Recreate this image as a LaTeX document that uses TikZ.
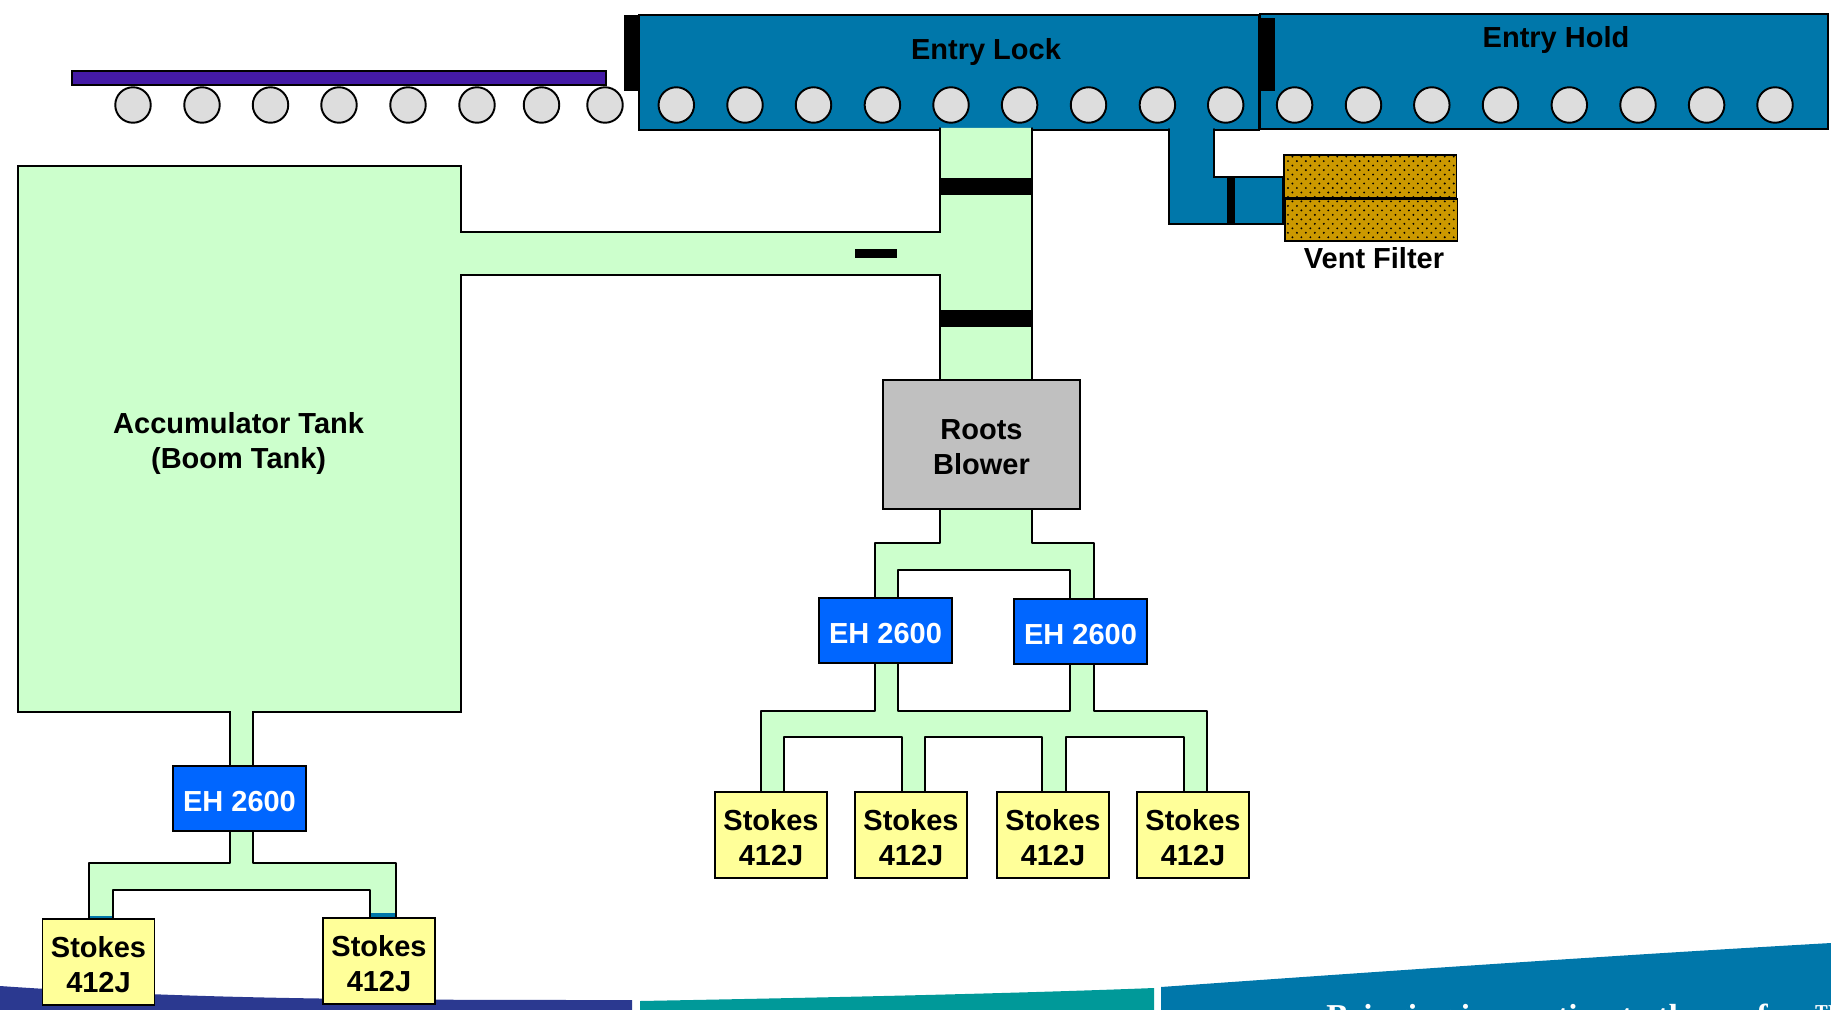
\documentclass[tikz,border=0pt]{standalone}
\usepackage{fontspec}
\setmainfont{Liberation Sans}
\newfontfamily\tagfont{Liberation Serif}
\usepackage{tkz-euclide}
\usetikzlibrary{patterns}
\definecolor{PipeClr}{HTML}{CCFFCC}
\definecolor{LockClr}{HTML}{0077AA}
\definecolor{PumpClr}{HTML}{0066FF}
\definecolor{StokesClr}{HTML}{FFFF99}
\definecolor{RootsClr}{HTML}{C0C0C0}
\definecolor{RollClr}{HTML}{DDDDDD}
\definecolor{StripClr}{HTML}{441AA6}
\definecolor{FilterClr}{HTML}{CC9900}
\definecolor{NavyClr}{HTML}{2B3990}
\definecolor{TealClr}{HTML}{009999}
\pgfdeclarepatternformonly{ventdots}{\pgfqpoint{-1pt}{-1pt}}{\pgfqpoint{6pt}{6pt}}{\pgfqpoint{5.1pt}{5.1pt}}{
\pgfpathcircle{\pgfqpoint{1.2pt}{1.2pt}}{.6pt}
\pgfpathcircle{\pgfqpoint{3.75pt}{3.75pt}}{.6pt}
\pgfusepath{fill}}
\newcommand{\lowtxt}{\rule{0pt}{14.8pt}}
\tikzset{
  boxtxt/.style={font=\bfseries\fontsize{16.5}{20}\selectfont,align=center,text=black,inner sep=0pt},
  box/.style={boxtxt,draw=black,line width=1.1pt,rectangle},
  lock/.style={box,fill=LockClr},
  pump/.style={box,fill=PumpClr,text=white,minimum width=2.66cm,minimum height=1.3cm},
  stokes/.style={box,fill=StokesClr,minimum width=2.24cm,minimum height=1.72cm},
  filter/.style={box,preaction={fill=FilterClr},pattern=ventdots,pattern color=black,minimum width=3.46cm,minimum height=.85cm},
  gate/.style={fill=black,inner sep=0pt,rectangle},
  roll/.style={circle,draw=black,line width=1.1pt,fill=RollClr,minimum size=.71cm,inner sep=0pt}
}

\begin{document}
\begin{tikzpicture}[x=.02cm,y=-.02cm]
\tkzSetUpLine[line width=1.1pt,color=black]
\useasboundingbox (0,0) rectangle (1831,1010);

% bands along the foot of the page
\fill[NavyClr] (0,986) .. controls (200,1000) and (400,1000) .. (632,1000) -- (632,1010) -- (0,1010) -- cycle;
\fill[TealClr] (640,1001) .. controls (800,998) and (1000,994) .. (1154,988) -- (1154,1010) -- (640,1010) -- cycle;
\fill[LockClr] (1161,987) .. controls (1400,970) and (1620,955) .. (1831,943) -- (1831,1010) -- (1161,1010) -- cycle;
\begin{scope}
\clip (0,0) rectangle (1831,1010);
\node[anchor=north west,inner sep=0pt,text=white,font=\tagfont\bfseries\fontsize{19}{20}\selectfont] (Tagline) at (1326,1004) {Bringing innovation to the surface™};
\end{scope}

% line and chambers
\node[box,fill=StripClr,minimum width=10.68cm,minimum height=.28cm] (Strip) at (339,77.7) {};
\node[lock,minimum width=11.36cm,minimum height=2.3cm] (EntryHold) at (1544,71.5) {};
\node[lock,minimum width=12.4cm,minimum height=2.3cm] (EntryLock) at (949,72.5) {};
\node[gate,minimum width=.3cm,minimum height=1.52cm] (GateA) at (631.5,53) {};
\node[gate,minimum width=.32cm,minimum height=1.46cm] (GateB) at (1267,54.5) {};
\node[boxtxt] (LockLabel) at (986,52.5) {Entry Lock};
\node[boxtxt] (HoldLabel) at (1556,40) {Entry Hold};
\foreach \x [count=\i] in {133,202,270.5,339,408,477,541.5,605,676.3,745,813.5,882.4,951,1019.6,1088.5,1157.4,1225.7,1294.6,1363.5,1431.8,1500.5,1569.3,1638,1706.6,1775}
  \node[roll] (Roll\i) at (\x,105) {};

% vent branch
\tkzDefPoints{1214/129/V1,1214/177/V2,1283/177/V3,1283/224/V4,1169/224/V5,1169/129/V6}
\tkzFillPolygon[fill=LockClr](V1,V2,V3,V4,V5,V6)
\tkzDrawPolySeg(V1,V2,V3,V4,V5,V6)
\node[gate,minimum width=.16cm,minimum height=.94cm] (VentValve) at (1231,200.5) {};
\node[filter] (FilterA) at (1370,176.5) {};
\node[filter] (FilterB) at (1371,220) {};
\node[boxtxt] (VentLabel) at (1374,258) {Vent Filter};

% tank and main line
\tkzDefPoints{1032/128/T1,1032/385/T2,940/385/T3,940/275/T4,461/275/T5,461/712/T6,253/712/T7,253/770/T8}
\tkzDefPoints{230/770/T9,230/712/T10,18/712/T11,18/166/T12,461/166/T13,461/232/T14,940/232/T15,940/128/T16}
\tkzFillPolygon[fill=PipeClr](T1,T2,T3,T4,T5,T6,T7,T8,T9,T10,T11,T12,T13,T14,T15,T16)
\tkzDrawPolySeg(T1,T2,T3,T4,T5,T6,T7,T8,T9,T10,T11,T12,T13,T14,T15,T16)
\node[gate,minimum width=1.84cm,minimum height=.34cm] (ValveA) at (986,186.5) {};
\node[gate,minimum width=1.84cm,minimum height=.34cm] (ValveB) at (986,318.5) {};
\node[gate,minimum width=.84cm,minimum height=.18cm] (ValveC) at (876,253.5) {};
\node[boxtxt] (TankLabel) at (238.6,443.5) {Accumulator Tank\\(Boom Tank)};

% pipes under the blower
\tkzDefPoints{940/505/A1,940/543/A2,875/543/A3,875/605/A4,898/605/A5,898/570/A6,1070/570/A7,1070/605/A8,1094/605/A9,1094/543/A10,1032/543/A11,1032/505/A12}
\tkzDrawPolygon[fill=PipeClr](A1,A2,A3,A4,A5,A6,A7,A8,A9,A10,A11,A12)
\tkzDefPoints{875/655/B1,875/711/B2,761/711/B3,761/796/B4,784/796/B5,784/737/B6,902/737/B7,902/796/B8,925/796/B9,925/737/B10,1042/737/B11,1042/796/B12}
\tkzDefPoints{1066/796/B13,1066/737/B14,1184/737/B15,1184/796/B16,1207/796/B17,1207/711/B18,1094/711/B19,1094/655/B20,1070/655/B21,1070/711/B22,898/711/B23,898/655/B24}
\tkzDrawPolygon[fill=PipeClr](B1,B2,B3,B4,B5,B6,B7,B8,B9,B10,B11,B12,B13,B14,B15,B16,B17,B18,B19,B20,B21,B22,B23,B24)

% pipes under the tank pump
\tkzDefPoints{230/825/C1,230/863/C2,89/863/C3,89/925/C4,113/925/C5,113/890/C6,370/890/C7,370/925/C8,396/925/C9,396/863/C10,253/863/C11,253/825/C12}
\tkzDrawPolygon[fill=PipeClr](C1,C2,C3,C4,C5,C6,C7,C8,C9,C10,C11,C12)
\fill[LockClr] (90,916) rectangle (112,920);
\fill[LockClr] (371,913) rectangle (395,918);

% machines
\node[box,fill=RootsClr,minimum width=3.94cm,minimum height=2.58cm] (Roots) at (981.5,444.5) {\lowtxt Roots\\Blower};
\node[pump] (PumpA) at (885.5,630.5) {\lowtxt EH 2600};
\node[pump] (PumpB) at (1080.5,631.5) {\lowtxt EH 2600};
\node[pump] (PumpC) at (239.5,798.5) {\lowtxt EH 2600};
\node[stokes] (StokesA) at (771,835) {\lowtxt Stokes\\412J};
\node[stokes] (StokesB) at (911,835) {\lowtxt Stokes\\412J};
\node[stokes] (StokesC) at (1053,835) {\lowtxt Stokes\\412J};
\node[stokes] (StokesD) at (1193,835) {\lowtxt Stokes\\412J};
\node[stokes] (StokesE) at (98.5,962) {\lowtxt Stokes\\412J};
\node[stokes] (StokesF) at (379,961) {\lowtxt Stokes\\412J};
\end{tikzpicture}
\end{document}
